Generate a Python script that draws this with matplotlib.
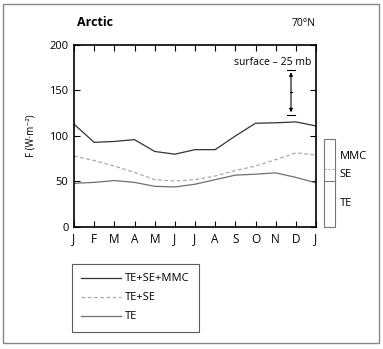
import matplotlib
matplotlib.use('Agg')
import matplotlib.pyplot as plt
import matplotlib.transforms as mtransforms
from matplotlib.patches import Rectangle
import numpy as np

plt.rcParams['font.family'] = ['Open Sans', 'DejaVu Sans']

months = ['J', 'F', 'M', 'A', 'M', 'J', 'J', 'A', 'S', 'O', 'N', 'D', 'J']
te_se_mmc = [113, 93, 94, 96, 83, 80, 85, 85, 100, 114, 114.5, 115.5, 111]
te_se = [78, 73, 67, 60, 52, 50.5, 52, 56, 62, 67, 74, 81.5, 79]
te = [48, 49, 51, 49, 44.7, 44, 47, 52, 57, 58, 59.5, 54.5, 48.5]

fig = plt.figure(figsize=(3.83, 3.49), dpi=100)
ax = fig.add_axes([0.1932, 0.3496, 0.6319, 0.5215])
x = np.arange(len(months))

l1, = ax.plot(x, te_se_mmc, color='#333333', lw=0.9, label='TE+SE+MMC')
l2, = ax.plot(x, te_se, color='#aaaaaa', lw=0.9, ls=(0, (3, 2)), label='TE+SE')
l3, = ax.plot(x, te, color='#707070', lw=0.9, label='TE')

ax.set_xlim(0, 12)
ax.set_ylim(0, 200)
ax.set_xticks(x)
ax.set_xticklabels(months, fontsize=8.5)
ax.set_yticks([0, 50, 100, 150, 200])
ax.tick_params(axis='y', labelsize=8)
ax.tick_params(direction='in', top=True, right=True, length=4, width=0.8, pad=4)
for s in ax.spines.values():
    s.set_linewidth(1.2)
ax.set_ylabel('F (W·m⁻²)', fontsize=7, labelpad=9)

# title texts
fig.text(77 / 383, 1 - 23 / 349, 'Arctic', fontsize=9, fontweight='bold', va='center')
fig.text(316 / 383, 1 - 23 / 349, '70°N', fontsize=7.5, ha='right', va='center')

# error bar annotation
ex = 10.76
ax.text(11.75, 181, 'surface – 25 mb', fontsize=7.5, ha='right', va='center')
ax.annotate('', xy=(ex, 170), xytext=(ex, 126),
            arrowprops=dict(arrowstyle='<|-|>', color='black', lw=0.8,
                            mutation_scale=5, shrinkA=0, shrinkB=0))
ax.plot([ex - 0.2, ex + 0.2], [172.5, 172.5], color='black', lw=0.8)
ax.plot([ex - 0.2, ex + 0.2], [123.5, 123.5], color='black', lw=0.8)
ax.plot([ex - 0.05, ex + 0.05], [148, 148], color='black', lw=0.8)

# side bar showing components
trans = mtransforms.blended_transform_factory(ax.transAxes, ax.transData)
ax.add_patch(Rectangle((1.033, 0), 0.0455, 97, transform=trans, fill=False,
                       edgecolor='#777777', lw=0.8, clip_on=False))
ax.plot([1.033, 1.0785], [63.5, 63.5], transform=trans, color='#aaaaaa',
        lw=0.8, ls=(0, (2, 1.5)), clip_on=False)
ax.plot([1.033, 1.0785], [50.5, 50.5], transform=trans, color='#777777',
        lw=0.8, clip_on=False)
ax.text(1.099, 78, 'MMC', transform=trans, fontsize=8, va='center')
ax.text(1.099, 58, 'SE', transform=trans, fontsize=8, va='center')
ax.text(1.099, 26, 'TE', transform=trans, fontsize=8, va='center')

leg = fig.legend(handles=[l1, l2, l3], loc='upper left',
                 bbox_to_anchor=(72 / 383, 1 - 264 / 349), fontsize=8,
                 fancybox=False, edgecolor='#333333', handlelength=3.6,
                 borderpad=0.85, labelspacing=0.72, borderaxespad=0,
                 handletextpad=0.3)
leg.get_frame().set_linewidth(0.8)

# outer frame
fig.patches.append(Rectangle((3 / 383, 1 - 343 / 349), 376 / 383, 339 / 349,
                             transform=fig.transFigure, fill=False,
                             edgecolor='#888888', lw=1.0))

fig.savefig('out.png', dpi=100)
